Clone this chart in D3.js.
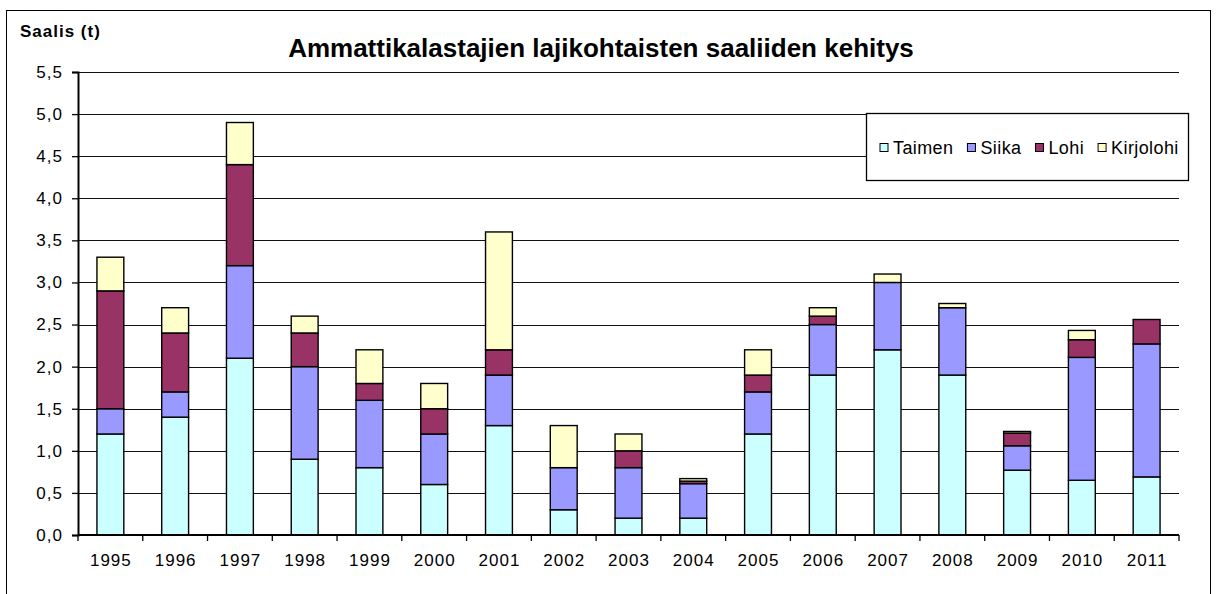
<!DOCTYPE html>
<html lang="fi">
<head>
  <meta charset="UTF-8">
  <title>Ammattikalastajien lajikohtaisten saaliiden kehitys</title>
  <style>
    body { margin: 0; background: #fff; }
    text { font-family: "Liberation Sans", Arial, sans-serif; fill: #000; }
  </style>
</head>
<body>
<script src="https://d3js.org/d3.v7.min.js"></script>
<script>

  // Data (tonnes)
  var years = ["1995", "1996", "1997", "1998", "1999", "2000", "2001", "2002", "2003",
    "2004", "2005", "2006", "2007", "2008", "2009", "2010", "2011"];

  var taimen    = [1.2, 1.4, 2.1, 0.9, 0.8, 0.6, 1.3, 0.3, 0.2, 0.2,  1.2, 1.9, 2.2, 1.9,  0.77, 0.65, 0.69];
  var siika     = [0.3, 0.3, 1.1, 1.1, 0.8, 0.6, 0.6, 0.5, 0.6, 0.41, 0.5, 0.6, 0.8, 0.8,  0.29, 1.46, 1.58];
  var lohi      = [1.4, 0.7, 1.2, 0.4, 0.2, 0.3, 0.3, 0.0, 0.2, 0.03, 0.2, 0.1, 0.0, 0.0,  0.15, 0.21, 0.29];
  var kirjolohi = [0.4, 0.3, 0.5, 0.2, 0.4, 0.3, 1.4, 0.5, 0.2, 0.03, 0.3, 0.1, 0.1, 0.05, 0.02, 0.11, 0.0];

  var seriesNames = ["Taimen", "Siika", "Lohi", "Kirjolohi"];
  var seriesColors = ["#CCFFFF", "#9999FF", "#993366", "#FFFFCC"];

  var yTicks = [0, 0.5, 1, 1.5, 2, 2.5, 3, 3.5, 4, 4.5, 5, 5.5];

  var title = "Ammattikalastajien lajikohtaisten saaliiden kehitys";
  var yTitle = "Saalis (t)";

  // table for d3.stack
  var table = years.map(function(y, i) {
    return { year: y, Taimen: taimen[i], Siika: siika[i], Lohi: lohi[i], Kirjolohi: kirjolohi[i] };
  });

  var W = 1216, H = 594;
  var plot = { left: 78, right: 1179, top: 72, bottom: 535 };

  var svg = d3.select("body").append("svg")
    .attr("width", W)
    .attr("height", H);

  // outer chart frame
  svg.append("rect")
    .attr("x", 6.5).attr("y", 10.5)
    .attr("width", 1204).attr("height", 610)
    .attr("fill", "#fff")
    .attr("stroke", "#000")
    .attr("stroke-width", 1);

  var x = d3.scaleBand()
    .domain(years)
    .range([plot.left, plot.right])
    .paddingInner(0.585)
    .paddingOuter(0.2925);

  var y = d3.scaleLinear()
    .domain([0, 5.5])
    .range([plot.bottom, plot.top]);

  var color = d3.scaleOrdinal().domain(seriesNames).range(seriesColors);

  // gridlines
  svg.append("g")
    .selectAll("line")
    .data(yTicks.filter(function(d) { return d > 0; }))
    .join("line")
    .attr("x1", plot.left)
    .attr("x2", plot.right)
    .attr("y1", function(d) { return Math.round(y(d)) + 0.5; })
    .attr("y2", function(d) { return Math.round(y(d)) + 0.5; })
    .attr("stroke", "#111")
    .attr("stroke-width", 1);

  // stacked bars
  var stacked = d3.stack().keys(seriesNames)(table);

  svg.append("g")
    .selectAll("g")
    .data(stacked)
    .join("g")
    .attr("fill", function(d) { return color(d.key); })
    .selectAll("rect")
    .data(function(d) { return d.filter(function(p) { return p[1] - p[0] > 0; }); })
    .join("rect")
    .attr("x", function(d) { return x(d.data.year); })
    .attr("y", function(d) { return y(d[1]); })
    .attr("width", x.bandwidth())
    .attr("height", function(d) { return y(d[0]) - y(d[1]); })
    .attr("stroke", "#000")
    .attr("stroke-width", 1.4);

  // y axis
  var yAxis = d3.axisLeft(y)
    .tickValues(yTicks)
    .tickSize(6)
    .tickPadding(9)
    .tickFormat(function(d) { return d3.format(".1f")(d).replace(".", ","); });

  var gy = svg.append("g")
    .attr("transform", "translate(" + plot.left + ",0)")
    .call(yAxis);
  gy.select(".domain").attr("stroke", "#000").attr("stroke-width", 2);
  gy.selectAll(".tick line").attr("stroke", "#000").attr("stroke-width", 1.3);
  gy.selectAll(".tick text")
    .style("font-size", "17px")
    .style("letter-spacing", "1px")
    .attr("fill", "#000");

  // x axis: ticks sit between categories
  var gx = svg.append("g")
    .attr("transform", "translate(0," + plot.bottom + ")");

  gx.append("line")
    .attr("x1", plot.left).attr("x2", plot.right)
    .attr("y1", 0).attr("y2", 0)
    .attr("stroke", "#000").attr("stroke-width", 2);

  var step = x.step();
  var bounds = years.map(function(yr) { return x(yr) + x.bandwidth() / 2 - step / 2; });
  bounds.push(plot.right);

  gx.selectAll("line.tick")
    .data(bounds)
    .join("line")
    .attr("class", "tick")
    .attr("x1", function(d) { return d; })
    .attr("x2", function(d) { return d; })
    .attr("y1", 0).attr("y2", 6)
    .attr("stroke", "#000").attr("stroke-width", 1.3);

  gx.selectAll("text")
    .data(years)
    .join("text")
    .attr("x", function(d) { return x(d) + x.bandwidth() / 2 + 0.5; })
    .attr("y", 31)
    .attr("text-anchor", "middle")
    .style("font-size", "17px")
    .style("letter-spacing", "1px")
    .text(function(d) { return d; });

  // titles
  svg.append("text")
    .attr("x", 601)
    .attr("y", 57)
    .attr("text-anchor", "middle")
    .style("font-size", "26px")
    .style("font-weight", "bold")
    .text(title);

  svg.append("text")
    .attr("x", 20)
    .attr("y", 37)
    .style("font-size", "17px")
    .style("font-weight", "bold")
    .style("letter-spacing", "1px")
    .text(yTitle);

  // legend
  var legend = svg.append("g");

  legend.append("rect")
    .attr("x", 866.5).attr("y", 113.5)
    .attr("width", 322).attr("height", 67)
    .attr("fill", "#fff")
    .attr("stroke", "#000")
    .attr("stroke-width", 1.3);

  var lx = 880;
  seriesNames.forEach(function(name) {
    var item = legend.append("g").attr("transform", "translate(" + lx + ",0)");
    item.append("rect")
      .attr("x", 0).attr("y", 143.5)
      .attr("width", 8).attr("height", 8)
      .attr("fill", color(name))
      .attr("stroke", "#000")
      .attr("stroke-width", 1);
    var t = item.append("text")
      .attr("x", 13)
      .attr("y", 154)
      .style("font-size", "18px")
      .style("letter-spacing", "0.4px")
      .text(name);
    lx += 13 + t.node().getComputedTextLength() + 14;
  });

</script>
</body>
</html>
